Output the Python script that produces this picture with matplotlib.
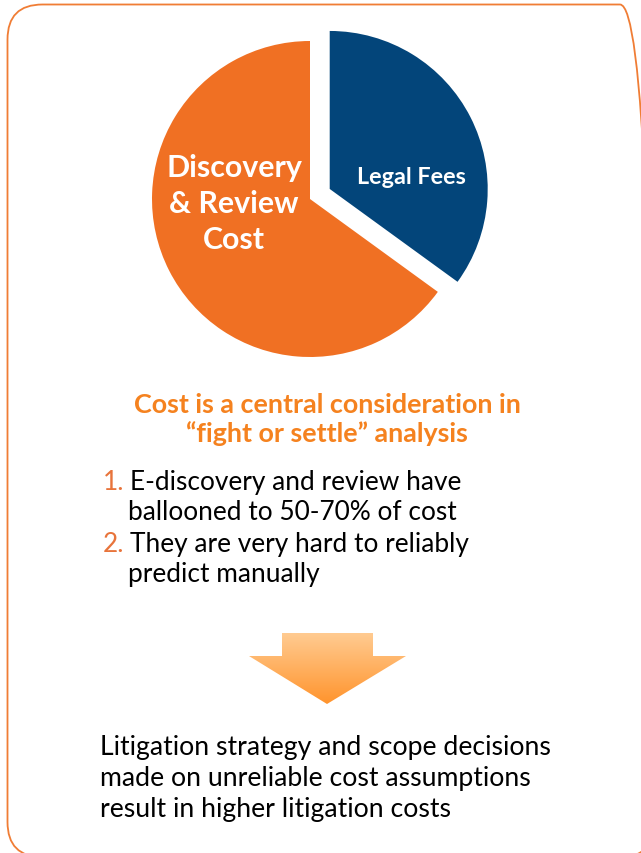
import matplotlib
matplotlib.use('Agg')
import matplotlib.pyplot as plt
import numpy as np
from matplotlib.patches import FancyBboxPatch, Polygon

plt.rcParams['font.family'] = ['Lato', 'DejaVu Sans']

W, H = 641, 854

# ---- data ----
categories = ['Legal Fees', 'Discovery\n& Review\nCost']
shares = [35, 65]
slice_colors = ['#03457A', '#F07023']

title_lines = ['Cost is a central consideration in', '\u201cfight or settle\u201d analysis']
list_numbers = ['1.', '2.']
list_items = [['E-discovery and review have', 'ballooned to 50-70% of cost'],
              ['They are very hard to reliably', 'predict manually']]
conclusion_lines = ['Litigation strategy and scope decisions',
                    'made on unreliable cost assumptions',
                    'result in higher litigation costs']

fig = plt.figure(figsize=(W / 100, H / 100), dpi=100)
ax = fig.add_axes([0, 0, 1, 1])
renderer = fig.canvas.get_renderer()


def Y(y):
    return H - y


def fit_size(s, width, weight='normal', base=20):
    t = fig.text(0, 0, s, fontsize=base, fontweight=weight)
    w = t.get_window_extent(renderer).width
    t.remove()
    return base * width / w


# ---- border ----
border = FancyBboxPatch((7.5, Y(858)), 655 - 7.5, 858 - 5.5,
                        boxstyle='round,pad=0,rounding_size=35',
                        fc='none', ec='#F07D35', lw=1.3, zorder=1)
ax.add_patch(border)

# ---- pie ----
R = 158
ax.pie(shares, colors=slice_colors, startangle=90, counterclock=False,
       center=(310, Y(200)), radius=R, explode=[0.14 * R, 0],
       wedgeprops=dict(linewidth=0), frame=True)

fs = fit_size('Discovery', 136, 'bold')
for line, yb in zip(categories[1].split('\n'), [177, 213, 249]):
    ax.text(234, Y(yb), line, ha='center', va='baseline', color='white',
            fontsize=fs, fontweight='bold')
fs = fit_size(categories[0], 109, 'bold')
ax.text(411, Y(184), categories[0], ha='center', va='baseline', color='white',
        fontsize=fs, fontweight='bold')

# ---- title ----
fs = fit_size(title_lines[0], 387, 'bold')
for line, yb in zip(title_lines, [413, 442]):
    ax.text(327, Y(yb), line, ha='center', va='baseline', color='#F5821F',
            fontsize=fs, fontweight='bold')

# ---- numbered list ----
fs = fit_size(list_items[0][0], 332)
baselines = [[490, 520], [552, 582]]
for num, item, ybs in zip(list_numbers, list_items, baselines):
    ax.text(103, Y(ybs[0]), num, ha='left', va='baseline', color='#E8743B', fontsize=fs)
    ax.text(130, Y(ybs[0]), item[0], ha='left', va='baseline', color='black', fontsize=fs)
    ax.text(128, Y(ybs[1]), item[1], ha='left', va='baseline', color='black', fontsize=fs)

# ---- arrow with gradient ----
arrow_pts = [(282, 634), (373, 634), (373, 657), (406, 657), (327, 705),
             (249, 657), (282, 657)]
poly = Polygon([(x, Y(y)) for x, y in arrow_pts], closed=True, fc='none',
               ec='none', transform=ax.transData)
ax.add_patch(poly)
top = np.array([255, 203, 145]) / 255
bot = np.array([255, 148, 45]) / 255
tgrid = np.linspace(0, 1, 200)[:, None]
grad = top[None, :] * (1 - tgrid) + bot[None, :] * tgrid
grad = np.repeat(grad[:, None, :], 2, axis=1)
im = ax.imshow(grad, extent=(249, 406, Y(705), Y(634)), origin='upper',
               aspect='auto', zorder=2, interpolation='bilinear')
im.set_clip_path(poly)

# ---- conclusion ----
fs = fit_size(conclusion_lines[0], 450)
for line, yb in zip(conclusion_lines, [755, 786, 817]):
    ax.text(100, Y(yb), line, ha='left', va='baseline', color='black', fontsize=fs)

ax.set_xlim(0, W)
ax.set_ylim(0, H)
ax.set_aspect('auto')
ax.axis('off')

fig.savefig('out.png', dpi=100, facecolor='white')
